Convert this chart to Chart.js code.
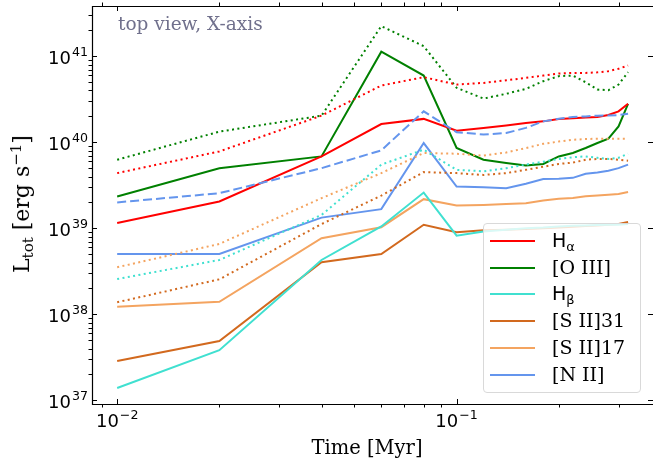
<!DOCTYPE html>
<html>
<head>
<meta charset="utf-8">
<script src="https://cdn.jsdelivr.net/npm/chart.js@4.4.1/dist/chart.umd.min.js"></script>
<style>
  html, body { margin: 0; padding: 0; background: #fff; }
  #wrap { position: relative; width: 653px; height: 462px; overflow: hidden; }
  #chart { display: block; }
  #note { position: absolute; left: 118px; top: 14px; font: 18.5px "DejaVu Serif"; line-height: 19px; color: rgb(112,112,140); white-space: nowrap; }
  #xtitle { position: absolute; left: 367px; top: 448px; transform: translate(-50%, -50%);
    font: 19.5px "DejaVu Serif"; line-height: 22px; color: #000; white-space: nowrap; }
  #ytitle { position: absolute; left: 22px; top: 204px; transform: translate(-50%, -50%) rotate(-90deg);
    font: 22px "DejaVu Serif"; line-height: 22px; color: #000; white-space: nowrap; }
  #ytitle sub { font-size: 15px; vertical-align: -4px; line-height: 0; }
  #ytitle sup { font-size: 15px; vertical-align: 8px; line-height: 0; }
  #legend { position: absolute; left: 483px; top: 223px; width: 158px; height: 170px; box-sizing: border-box;
    border: 1px solid #d9d9d9; border-radius: 4px; background: rgba(255,255,255,0.8); }
  .row { position: absolute; left: 0; height: 20px; }
  .swatch { position: absolute; left: 6px; top: 9px; width: 45px; height: 2px; }
  .lab { position: absolute; left: 68px; top: -1px; font: 19px "DejaVu Serif"; line-height: 20px; color: #000; white-space: nowrap; }
  .lab .m { font-family: "DejaVu Sans"; }
  .lab sub { font-size: 13px; vertical-align: -4px; line-height: 0; }
</style>
</head>
<body>
<div id="wrap">
  <canvas id="chart" width="653" height="462"></canvas>
  <div id="note">top view, X-axis</div>
  <div id="xtitle">Time [Myr]</div>
  <div id="ytitle">L<sub>tot</sub> [erg s<sup>−1</sup>]</div>
  <div id="legend"></div>
</div>
<script>
// time [Myr]
const times = [0.01, 0.02, 0.04, 0.06, 0.08, 0.1, 0.12, 0.14, 0.16, 0.18, 0.2, 0.22, 0.24, 0.26, 0.28, 0.3, 0.32]

// solid lines (legend entries)
const hAlpha = [1.15e39, 2.05e39, 6.85e39, 1.63e40, 1.87e40, 1.36e40, 1.47e40, 1.57e40, 1.67e40, 1.75e40, 1.87e40, 1.9e40, 1.94e40, 1.97e40, 2.08e40, 2.29e40, 2.8e40]
const oIII = [2.34e39, 5.0e39, 6.85e39, 1.13e41, 5.97e40, 8.57e39, 6.27e39, 5.74e39, 5.38e39, 5.6e39, 6.85e39, 7.5e39, 8.57e39, 9.8e39, 1.1e40, 1.53e40, 2.8e40]
const hBeta = [1.39e37, 3.83e37, 4.28e38, 1.05e39, 2.6e39, 8.2e38, 9.2e38, 9.6e38, 1.0e39, 1.02e39, 1.05e39, 1.07e39, 1.08e39, 1.09e39, 1.1e39, 1.1e39, 1.12e39]
const sII31 = [2.87e37, 4.9e37, 4.03e38, 5.03e38, 1.1e39, 9.0e38, 9.5e38, 9.6e38, 9.8e38, 1.0e39, 1.02e39, 1.04e39, 1.06e39, 1.08e39, 1.1e39, 1.12e39, 1.18e39]
const sII17 = [1.22e38, 1.4e38, 7.67e38, 1.03e39, 2.18e39, 1.84e39, 1.87e39, 1.92e39, 1.95e39, 2.1e39, 2.2e39, 2.25e39, 2.35e39, 2.4e39, 2.45e39, 2.5e39, 2.64e39]
const nII = [5.03e38, 5.03e38, 1.33e39, 1.67e39, 9.8e39, 3.06e39, 3.0e39, 2.93e39, 3.29e39, 3.73e39, 3.76e39, 3.86e39, 4.3e39, 4.45e39, 4.66e39, 5.0e39, 5.5e39]

// dotted / dashed lines (no legend entry)
const hAlphaDot = [4.38e39, 7.83e39, 2.04e40, 4.57e40, 5.71e40, 4.69e40, 4.9e40, 5.26e40, 5.6e40, 5.97e40, 6.3e40, 6.4e40, 6.4e40, 6.5e40, 6.7e40, 7.15e40, 7.82e40]
const oIIIDot = [6.27e39, 1.33e40, 2.04e40, 2.24e41, 1.31e41, 4.3e40, 3.22e40, 3.66e40, 4.18e40, 5.13e40, 5.87e40, 5.97e40, 4.99e40, 4.1e40, 4.03e40, 4.69e40, 6.53e40]
const hBetaDot = [2.57e38, 4.28e38, 1.43e39, 5.5e39, 8.2e39, 4.78e39, 4.6e39, 5.0e39, 5.5e39, 5.95e39, 6.4e39, 6.7e39, 6.85e39, 6.6e39, 6.4e39, 6.6e39, 7.36e39]
const sII31Dot = [1.38e38, 2.55e38, 1.12e39, 2.4e39, 4.5e39, 4.38e39, 4.17e39, 4.38e39, 4.78e39, 5.2e39, 5.6e39, 5.8e39, 6.27e39, 6.4e39, 6.4e39, 6.27e39, 6.1e39]
const sII17Dot = [3.52e38, 6.58e38, 2.24e39, 4.38e39, 7.5e39, 7.36e39, 7.0e39, 7.6e39, 8.57e39, 9.6e39, 1.02e40, 1.07e40, 1.09e40, 1.1e40, 1.1e40, 1.1e40, 1.1e40]
const nIIDash = [2.0e39, 2.56e39, 5.0e39, 8.05e39, 2.29e40, 1.31e40, 1.23e40, 1.28e40, 1.47e40, 1.75e40, 1.88e40, 1.97e40, 2.0e40, 2.04e40, 2.05e40, 2.07e40, 2.15e40]

const labels = ['H<sub>α</sub>', '[O III]', 'H<sub>β</sub>', '[S II]31', '[S II]17', '[N II]']
const colors = ['#ff0000', '#008000', '#40e0d0', '#d2691e', '#f4a460', '#6495ed']
const solid = [hAlpha, oIII, hBeta, sII31, sII17, nII]
const broken = [hAlphaDot, oIIIDot, hBetaDot, sII31Dot, sII17Dot, nIIDash]

const xTicks = [0.01, 0.1]
const yTicks = [1e37, 1e38, 1e39, 1e40, 1e41]

const pts = arr => times.map((t, i) => ({x: t, y: arr[i]}))

const datasets = []
broken.forEach((arr, i) => datasets.push({
  data: pts(arr), borderColor: colors[i], borderWidth: 2,
  borderDash: i === 5 ? [9, 4] : [2, 3.4], borderCapStyle: 'butt'
}))
solid.forEach((arr, i) => datasets.push({
  data: pts(arr), borderColor: colors[i], borderWidth: 2
}))

// "10" with a raised exponent, like matplotlib's mathtext labels
function powLabel(ctx, v, x, y, align) {
  const exp = String(Math.round(Math.log10(v))).replace('-', '\u2212')
  ctx.font = '18px "DejaVu Sans"'
  const wb = ctx.measureText('10').width
  ctx.font = '12.6px "DejaVu Sans"'
  const we = ctx.measureText(exp).width
  const w = wb + 1 + we
  const x0 = align === 'right' ? x - w : x - w / 2
  ctx.font = '18px "DejaVu Sans"'
  ctx.fillText('10', x0, y)
  ctx.font = '12.6px "DejaVu Sans"'
  ctx.fillText(exp, x0 + wb + 1, y - 8)
}

// matplotlib style frame: major ticks inward, minor ticks outward
const frameTicks = {
  id: 'frameTicks',
  afterDraw(chart) {
    const {ctx, chartArea: a, scales: {x, y}} = chart
    ctx.save()
    ctx.strokeStyle = '#000'
    const tick = (x1, y1, x2, y2) => { ctx.beginPath(); ctx.moveTo(x1, y1); ctx.lineTo(x2, y2); ctx.stroke() }
    // left, top and bottom spines (the right one sits on the canvas edge)
    ctx.lineWidth = 1.2
    ctx.beginPath()
    ctx.moveTo(a.right, a.top + 0.5)
    ctx.lineTo(a.left + 0.5, a.top + 0.5)
    ctx.lineTo(a.left + 0.5, a.bottom + 0.5)
    ctx.lineTo(a.right, a.bottom + 0.5)
    ctx.stroke()
    ctx.lineWidth = 1
    for (let e = -3; e <= 0; e++) {
      for (let m = 1; m <= 9; m++) {
        const v = m * Math.pow(10, e)
        if (v < x.min || v > x.max) continue
        const px = Math.round(x.getPixelForValue(v)) + 0.5
        if (m === 1) { tick(px, a.bottom, px, a.bottom - 5); tick(px, a.top, px, a.top + 5) }
        else { tick(px, a.bottom, px, a.bottom + 3.5); tick(px, a.top, px, a.top - 3.5) }
      }
    }
    for (let e = 36; e <= 42; e++) {
      for (let m = 1; m <= 9; m++) {
        const v = m * Math.pow(10, e)
        if (v < y.min || v > y.max) continue
        const py = Math.round(y.getPixelForValue(v)) + 0.5
        if (m === 1) { tick(a.left, py, a.left + 5, py); tick(a.right, py, a.right - 5, py) }
        else { tick(a.left, py, a.left - 3.5, py) }
      }
    }
    ctx.fillStyle = '#000'
    ctx.textBaseline = 'alphabetic'
    xTicks.forEach(v => powLabel(ctx, v, x.getPixelForValue(v), a.bottom + 23, 'center'))
    yTicks.forEach(v => powLabel(ctx, v, a.left - 4, y.getPixelForValue(v) + 8, 'right'))
    ctx.restore()
  }
}

new Chart(document.getElementById('chart'), {
  type: 'line',
  data: {datasets},
  options: {
    responsive: false,
    animation: false,
    layout: {autoPadding: false, padding: {top: 6, right: 0, left: 0, bottom: 0}},
    elements: {point: {radius: 0}, line: {tension: 0}},
    plugins: {legend: {display: false}, tooltip: {enabled: false}},
    scales: {
      x: {
        type: 'logarithmic', min: 0.00843, max: 0.379,
        grid: {display: false, drawTicks: false}, border: {display: false},
        afterFit: s => { s.height = 58; s.paddingLeft = 0; s.paddingRight = 0 },
        ticks: {display: false}
      },
      y: {
        type: 'logarithmic', min: 9.06e36, max: 3.84e41,
        grid: {display: false, drawTicks: false}, border: {display: false},
        afterFit: s => { s.width = 92; s.paddingTop = 0; s.paddingBottom = 0 },
        ticks: {display: false}
      }
    }
  },
  plugins: [frameTicks]
})

// legend built from the same label/colour lists
const legend = document.getElementById('legend')
const rowTops = [7, 34, 60, 87, 114, 141]
labels.forEach((l, i) => {
  const row = document.createElement('div')
  row.className = 'row'
  row.style.top = rowTops[i] + 'px'
  const html = l.startsWith('H') ? '<span class="m">' + l + '</span>' : l
  row.innerHTML = '<div class="swatch" style="background:' + colors[i] + '"></div><div class="lab">' + html + '</div>'
  legend.appendChild(row)
})
</script>
</body>
</html>
